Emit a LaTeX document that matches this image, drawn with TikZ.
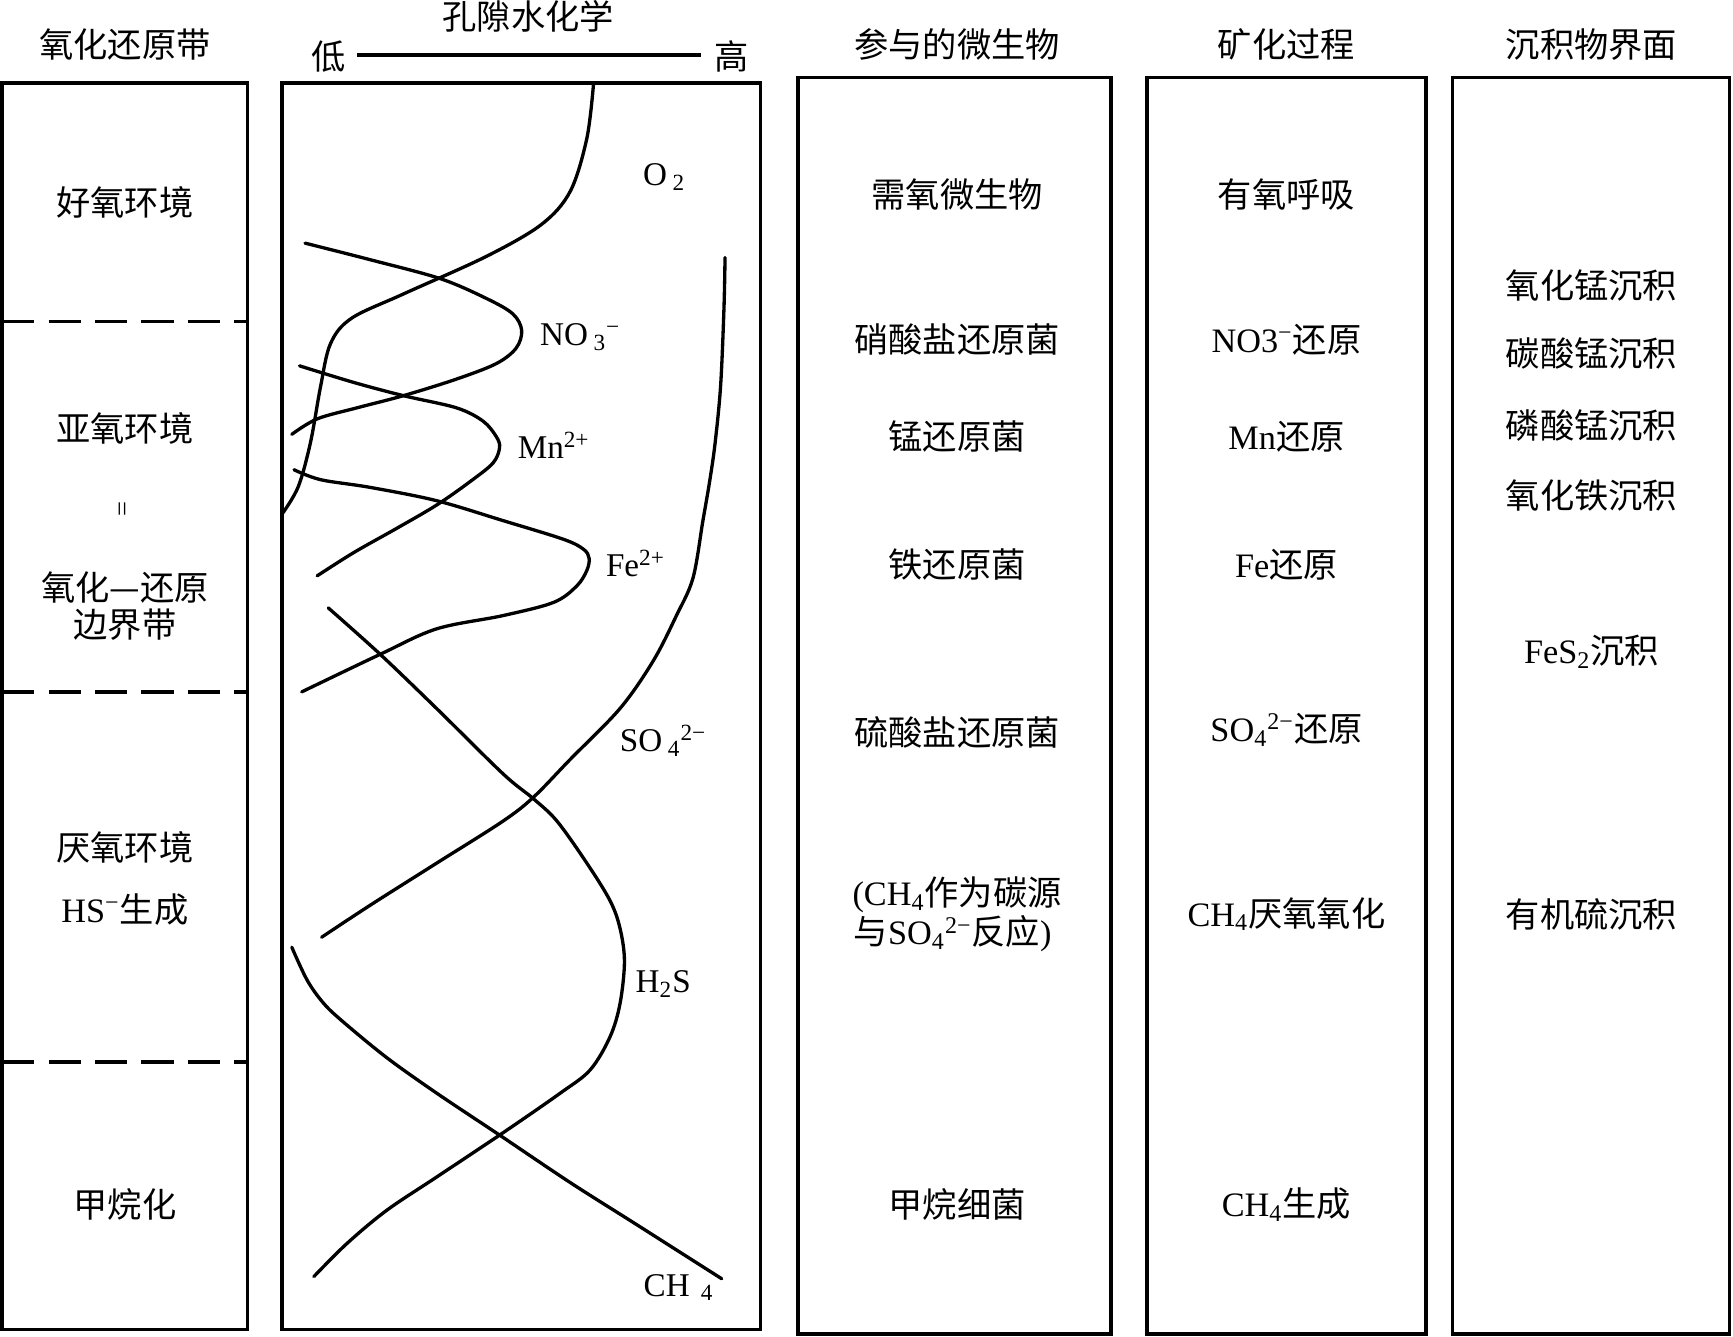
\documentclass[tikz,border=0pt]{standalone}
\usepackage{fontspec}
\setmainfont{Liberation Serif}
\newfontfamily\cjk{Noto Sans CJK SC}
\newcommand{\zh}[1]{{\cjk #1}}
\newcommand{\mysub}[1]{\textsubscript{#1}}
\newcommand{\mysup}[1]{\textsuperscript{#1}}
\tikzset{
  panel/.style={draw, line width=1.6pt},
  zonesep/.style={line width=1.6pt, dash pattern=on 14.5pt off 6.5pt},
  curve/.style={line width=1.5pt, line cap=round},
  lbl/.style={inner sep=0pt, font=\fontsize{15.5}{18}\selectfont},
  chem/.style={inner sep=0pt, font=\fontsize{15}{18}\selectfont}
}
\begin{document}
\begin{tikzpicture}[x=0.5pt,y=-0.5pt]
\useasboundingbox (0,0) rectangle (1568,1209);
% panels
\draw[panel] (2,75) rectangle (224,1203);
\draw[panel] (255,75) rectangle (688,1203);
\draw[panel] (722,70) rectangle (1005,1207);
\draw[panel] (1038,70) rectangle (1290,1207);
\draw[panel] (1314,70) rectangle (1565,1207);
% headers
\node[lbl] (h1) at (113,40) {\zh{氧化还原带}};
\node[lbl] (h2) at (478,15) {\zh{孔隙水化学}};
\node[lbl] (lo) at (297,51) {\zh{低}};
\node[lbl] (hi) at (662,51) {\zh{高}};
\draw[line width=1.6pt] ([xshift=5pt,yshift=0.5pt]lo.east) -- ([xshift=-6pt,yshift=0.5pt]hi.west);
\node[lbl] (h3) at (866,40) {\zh{参与的微生物}};
\node[lbl] (h4) at (1164,40) {\zh{矿化过程}};
\node[lbl] (h5) at (1440,40) {\zh{沉积物界面}};
% zone separators
\draw[zonesep] (2,291) -- (224,291);
\draw[zonesep] (2,626) -- (224,626);
\draw[zonesep] (2,961) -- (224,961);
% zone labels
\node[lbl] (z1) at (113,183) {\zh{好氧环境}};
\node[lbl] (z2) at (113,388) {\zh{亚氧环境}};
\node[lbl, rotate=90, font=\fontsize{12}{14}\selectfont] (z2e) at (113,461) {=};
\node[lbl] (z2a) at (113,532) {\zh{氧化—还原}};
\node[lbl] (z2b) at (113,565) {\zh{边界带}};
\node[lbl] (z3) at (113,767) {\zh{厌氧环境}};
\node[lbl] (z3b) at (113,823) {HS\mysup{−}\zh{生成}};
\node[lbl] (z4) at (113,1090) {\zh{甲烷化}};
% curves
\draw[curve] plot[smooth, tension=0.55] coordinates {(537,76) (531,125) (516,173) (490,203) (440,232) (365,266) (318,288) (299,311) (290,350) (281,400) (270,440) (256,464)};
\draw[curve] plot[smooth, tension=0.55] coordinates {(276,220) (335,235) (398,252) (440,270) (464,284) (472,299) (467,315) (449,329) (413,343) (365,358) (323,369) (287,379) (264,393)};
\draw[curve] plot[smooth, tension=0.55] coordinates {(271,331) (320,346) (365,358) (413,369) (437,381) (449,395) (452,405) (446,419) (425,436) (395,457) (359,478) (320,500) (287,521)};
\draw[curve] plot[smooth, tension=0.55] coordinates {(266,425) (290,434) (335,441) (395,453) (455,471) (510,488) (528,497) (533,505) (531,516) (522,530) (501,545) (455,557) (395,569) (344,592) (273,626)};
\draw[curve] plot[smooth, tension=0.55] coordinates {(656,233) (655,280) (652,349) (647,401) (642,436) (636,471) (627,523) (612,557) (591,598) (561,641) (516,687) (483,721) (455,743) (395,781) (335,819) (291,848)};
\draw[curve] plot[smooth, tension=0.55] coordinates {(297,550) (344,592) (395,641) (455,700) (483,723) (504,743) (531,781) (552,815) (561,840) (565,870) (561,908) (552,938) (534,968) (507,989) (455,1025) (395,1065) (350,1095) (314,1125) (284,1155)};
\draw[curve] plot[smooth, tension=0.55] coordinates {(264,857) (278,887) (293,908) (311,925) (350,957) (395,989) (452,1027) (516,1070) (576,1108) (653,1157)};
% curve labels
\node[chem] (o2) at (601,160) {O\,\mysub{2}};
\node[chem] (no3) at (525,305) {NO\,\mysub{3}\mysup{−}};
\node[chem] (mn) at (501,403) {Mn\mysup{2+}};
\node[chem] (fe) at (575,510) {Fe\mysup{2+}};
\node[chem] (so4) at (600,670) {SO\,\mysub{4}\mysup{2−}};
\node[chem] (h2s) at (600,890) {H\mysub{2}S};
\node[chem] (ch4) at (614,1165) {CH\,\,\mysub{4}};
% microbes
\node[lbl] (m1) at (866,176) {\zh{需氧微生物}};
\node[lbl] (m2) at (866,307) {\zh{硝酸盐还原菌}};
\node[lbl] (m3) at (866,395) {\zh{锰还原菌}};
\node[lbl] (m4) at (866,511) {\zh{铁还原菌}};
\node[lbl] (m5) at (866,663) {\zh{硫酸盐还原菌}};
\node[lbl] (m6a) at (866,810) {(CH\mysub{4}\zh{作为碳源}};
\node[lbl] (m6b) at (862,845) {\zh{与}SO\mysub{4}\mysup{2−}\zh{反应})};
\node[lbl] (m7) at (866,1090) {\zh{甲烷细菌}};
% processes
\node[lbl] (p1) at (1164,176) {\zh{有氧呼吸}};
\node[lbl] (p2) at (1164,307) {NO3\mysup{−}\zh{还原}};
\node[lbl] (p3) at (1164,395) {Mn\zh{还原}};
\node[lbl] (p4) at (1164,511) {Fe\zh{还原}};
\node[lbl] (p5) at (1164,660) {SO\mysub{4}\mysup{2−}\zh{还原}};
\node[lbl] (p6) at (1164,827) {CH\mysub{4}\zh{厌氧氧化}};
\node[lbl] (p7) at (1164,1090) {CH\mysub{4}\zh{生成}};
% sediment interface
\node[lbl] (s1) at (1440,258) {\zh{氧化锰沉积}};
\node[lbl] (s2) at (1440,320) {\zh{碳酸锰沉积}};
\node[lbl] (s3) at (1440,385) {\zh{磷酸锰沉积}};
\node[lbl] (s4) at (1440,448) {\zh{氧化铁沉积}};
\node[lbl] (s5) at (1440,590) {FeS\mysub{2}\zh{沉积}};
\node[lbl] (s6) at (1440,827) {\zh{有机硫沉积}};
\end{tikzpicture}
\end{document}
